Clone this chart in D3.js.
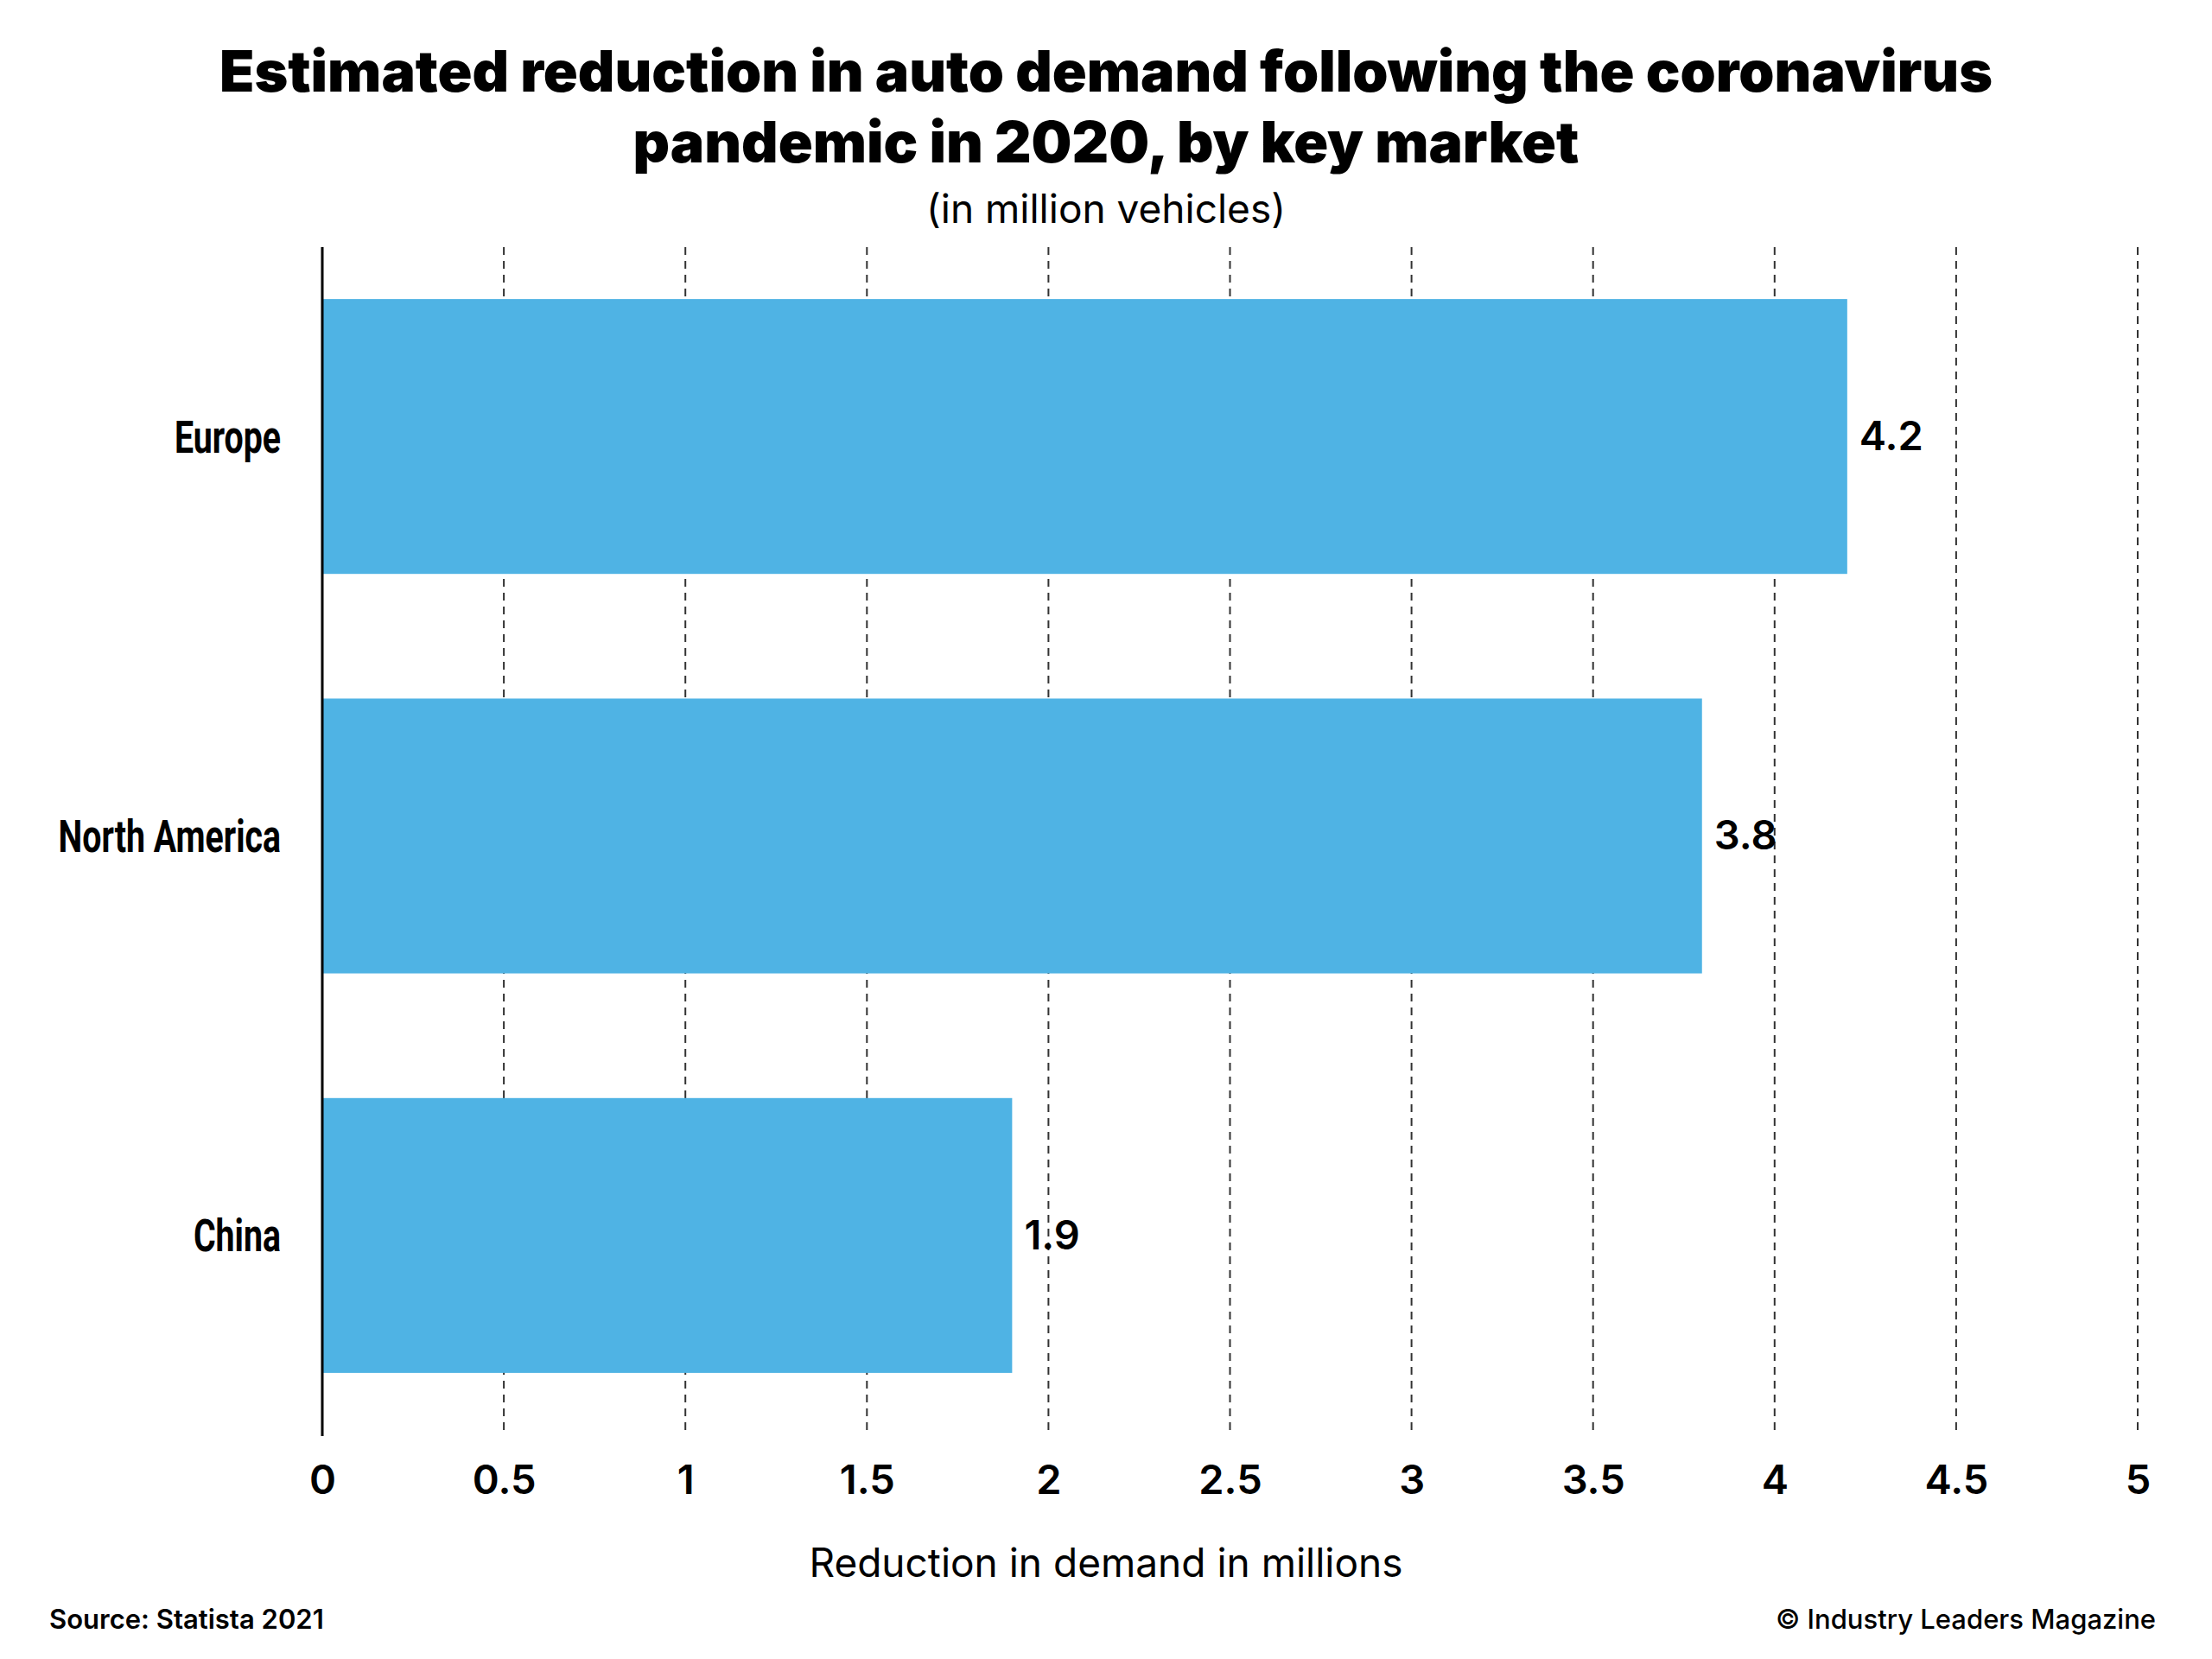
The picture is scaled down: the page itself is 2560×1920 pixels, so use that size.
<!DOCTYPE html>
<html>
<head>
<meta charset="utf-8">
<script src="https://cdn.jsdelivr.net/npm/d3@7"></script>
<style>
  body { margin: 0; background: #fff; overflow: hidden; }
  svg { display: block; }
  svg text { fill: #000; }
</style>
</head>
<body>
<div id="chart"></div>
<script>
// chart data
const markets = ["Europe", "North America", "China"]
const reductions = [4.2, 3.8, 1.9]
const xTicks = [0, 0.5, 1, 1.5, 2, 2.5, 3, 3.5, 4, 4.5, 5]

const width = 2560
const height = 1920
const margin = {top: 286, right: 86, bottom: 258, left: 373}
const innerWidth = width - margin.left - margin.right
const innerHeight = height - margin.top - margin.bottom
const barColor = "#4fb3e4"
const mainFont = "Inter, Lato, 'Open Sans', sans-serif"
const labelFont = "Roboto, 'Noto Sans', sans-serif"
const labelSquash = 0.77 // condensed look for the market names

const data = markets.map((m, i) => ({market: m, value: reductions[i]}))

const svg = d3.select("#chart").append("svg")
  .attr("width", width)
  .attr("height", height)

const g = svg.append("g")
  .attr("transform", "translate(" + margin.left + "," + margin.top + ")")

const xScale = d3.scaleLinear()
  .domain([0, 5])
  .range([0, innerWidth])

const yScale = d3.scaleBand()
  .domain(markets)
  .range([0, 1363])
  .paddingInner(0.312)
  .paddingOuter(0.13)

// dashed gridlines (behind bars)
g.append("g")
  .selectAll("line")
  .data(xTicks.filter(t => t > 0))
  .join("line")
    .attr("x1", d => xScale(d))
    .attr("x2", d => xScale(d))
    .attr("y1", 0)
    .attr("y2", innerHeight)
    .attr("stroke", "#333")
    .attr("stroke-width", 2)
    .attr("stroke-dasharray", "9,7")

// bars
g.append("g")
  .selectAll("rect")
  .data(data)
  .join("rect")
    .attr("x", 0)
    .attr("y", d => yScale(d.market))
    .attr("width", d => xScale(d.value))
    .attr("height", yScale.bandwidth())
    .attr("fill", barColor)

// value labels
g.append("g")
  .selectAll("text")
  .data(data)
  .join("text")
    .attr("x", d => xScale(d.value) + 14)
    .attr("y", d => yScale(d.market) + yScale.bandwidth() / 2)
    .attr("dy", "0.34em")
    .style("font-family", mainFont)
    .style("font-weight", 600)
    .style("font-size", "47px")
    .text(d => d.value)

// x axis (tick labels only)
const xAxis = g.append("g")
  .attr("transform", "translate(0," + innerHeight + ")")
  .call(d3.axisBottom(xScale).tickValues(xTicks).tickSize(0).tickPadding(34).tickFormat(d3.format("")))
xAxis.select(".domain").remove()
xAxis.selectAll("text")
  .style("font-family", mainFont)
  .style("font-weight", 600)
  .style("font-size", "47px")
  .attr("fill", "#000")

// market labels, squeezed horizontally
g.append("g")
  .selectAll("text")
  .data(markets)
  .join("text")
    .attr("transform", d => "translate(-48," + (yScale(d) + yScale.bandwidth() / 2) + ") scale(" + labelSquash + ",1)")
    .attr("dy", "0.36em")
    .attr("text-anchor", "end")
    .style("font-family", labelFont)
    .style("font-weight", 700)
    .style("font-size", "51px")
    .text(d => d)

// vertical axis line at 0
g.append("line")
  .attr("x1", 0).attr("x2", 0)
  .attr("y1", 0).attr("y2", innerHeight)
  .attr("stroke", "#000")
  .attr("stroke-width", 3)

// titles
svg.append("text")
  .attr("x", width / 2)
  .attr("y", 106)
  .attr("text-anchor", "middle")
  .style("font-family", mainFont)
  .style("font-weight", 900)
  .style("font-size", "66px")
  .text("Estimated reduction in auto demand following the coronavirus")

svg.append("text")
  .attr("x", width / 2)
  .attr("y", 188)
  .attr("text-anchor", "middle")
  .style("font-family", mainFont)
  .style("font-weight", 900)
  .style("font-size", "66px")
  .text("pandemic in 2020, by key market")

svg.append("text")
  .attr("x", width / 2)
  .attr("y", 258)
  .attr("text-anchor", "middle")
  .style("font-family", mainFont)
  .style("font-weight", 400)
  .style("font-size", "46px")
  .text("(in million vehicles)")

svg.append("text")
  .attr("x", width / 2)
  .attr("y", 1825)
  .attr("text-anchor", "middle")
  .style("font-family", mainFont)
  .style("font-weight", 400)
  .style("font-size", "46px")
  .text("Reduction in demand in millions")

svg.append("text")
  .attr("x", 57)
  .attr("y", 1885)
  .style("font-family", mainFont)
  .style("font-weight", 600)
  .style("font-size", "31px")
  .text("Source: Statista 2021")

svg.append("text")
  .attr("x", 2495)
  .attr("y", 1885)
  .attr("text-anchor", "end")
  .style("font-family", mainFont)
  .style("font-weight", 500)
  .style("font-size", "31px")
  .text("© Industry Leaders Magazine")
</script>
</body>
</html>
